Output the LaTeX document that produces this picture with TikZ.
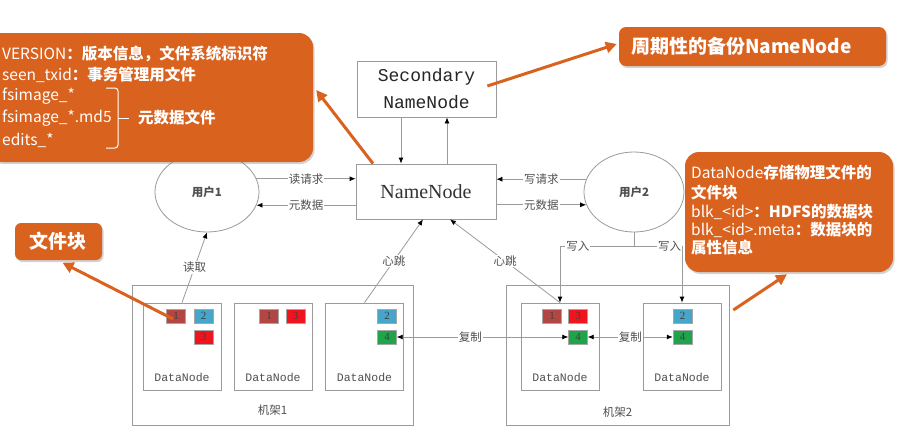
\documentclass[tikz,border=0pt]{standalone}
\usepackage{fontspec}
\setmainfont{Liberation Serif}
\newfontfamily\cjk{Noto Sans CJK SC}
\newfontfamily\mono{Liberation Mono}
\usetikzlibrary{shapes.geometric,arrows.meta,shadows,calc}
\definecolor{orng}{RGB}{217,98,31}
\definecolor{lgray}{RGB}{155,155,155}
\definecolor{tgray}{RGB}{80,80,80}
\definecolor{bone}{RGB}{178,70,66}
\definecolor{btwo}{RGB}{70,165,200}
\definecolor{bthree}{RGB}{240,20,30}
\definecolor{bfour}{RGB}{30,165,75}
\begin{document}
\begin{tikzpicture}[x=1pt,y=-1pt,
 box/.style={draw=lgray,line width=0.8pt,fill=white,inner sep=0pt},
 conn/.style={draw=lgray,line width=0.8pt},
 arr/.style={conn,-{Latex[length=6pt,width=5pt,color=black]}},
 darr/.style={conn,{Latex[length=6pt,width=5pt,color=black]}-{Latex[length=6pt,width=5pt,color=black]}},
 lbl/.style={fill=white,inner sep=1pt,text=tgray,font=\cjk\fontsize{11.5}{12}\selectfont},
 dnl/.style={text=tgray,font=\mono\fontsize{11.5}{12}\selectfont},
 dnbox/.style={box,minimum width=78pt,minimum height=87pt},
 blk/.style={draw=black!35,line width=0.4pt,minimum width=19pt,minimum height=14pt,inner sep=0pt,font=\fontsize{11}{11}\selectfont,text=black!75},
 callout/.style={fill=orng,drop shadow={opacity=0.35,shadow xshift=1.5pt,shadow yshift=-2pt}},
 ctext/.style={text=white,anchor=west,inner sep=0pt,font=\cjk\fontsize{15.5}{17}\selectfont},
 oarr/.style={draw=orng,line width=3pt,-{Triangle[length=11pt,width=11pt]}},
 ]
\useasboundingbox (0,0) rectangle (898,431);
\fill[white] (0,0) rectangle (898,431);

% racks
\node[box,minimum width=281pt,minimum height=140pt] (r1) at (272.5,355) {};
\node[box,minimum width=223pt,minimum height=140pt] (r2) at (617.5,355) {};
\node[lbl,fill=none] at ([yshift=15pt]r1.south) {机架1};
\node[lbl,fill=none] at ([yshift=13pt]r2.south) {机架2};

% datanodes
\node[dnbox] (dn1) at (182,346.5) {};
\node[dnbox] (dn2) at (273,346.5) {};
\node[dnbox] (dn3) at (364.5,346.5) {};
\node[dnbox] (dn4) at (560,346.5) {};
\node[dnbox] (dn5) at (682,346.5) {};
\foreach \d in {dn1,dn2,dn3,dn4,dn5}{\node[dnl] at ([yshift=12.5pt]\d.south) {DataNode};}

% blocks
\node[blk,fill=bone] (d1b1) at (176,316) {1};
\node[blk,fill=btwo] (d1b2) at (203.5,316) {2};
\node[blk,fill=bthree] (d1b3) at (203.5,337) {3};
\node[blk,fill=bone] (d2b1) at (269,316) {1};
\node[blk,fill=bthree] (d2b3) at (295.5,316) {3};
\node[blk,fill=btwo] (d3b2) at (387,316) {2};
\node[blk,fill=bfour] (d3b4) at (387,337) {4};
\node[blk,fill=bone] (d4b1) at (552,316) {1};
\node[blk,fill=bthree] (d4b3) at (578,316) {3};
\node[blk,fill=bfour] (d4b4) at (578,337) {4};
\node[blk,fill=btwo] (d5b2) at (682.5,316) {2};
\node[blk,fill=bfour] (d5b4) at (682.5,337) {4};

% name nodes
\node[box,minimum width=139pt,minimum height=56pt,align=center,font=\mono\fontsize{18}{27}\selectfont,text=black!85] (sec) at (426.5,89) {Secondary\\NameNode};
\node[box,minimum width=140pt,minimum height=55pt,font=\fontsize{20}{24}\selectfont,text=black!80] (nn) at (426,191.5) {NameNode};

% users
\node[ellipse,box,minimum width=104pt,minimum height=80pt,font=\cjk\bfseries\fontsize{11.5}{12}\selectfont,text=tgray] (u1) at (207,192) {用户1};
\node[ellipse,box,minimum width=100pt,minimum height=80pt,font=\cjk\bfseries\fontsize{11.5}{12}\selectfont,text=tgray] (u2) at (634,192) {用户2};

% connectors
\draw[arr] ([xshift=-25.5pt]sec.south) -- ([xshift=-25pt]nn.north);
\draw[arr] ([xshift=21pt]nn.north) -- ([xshift=20.5pt]sec.south);
\draw[arr] (u1.15) -- node[lbl]{读请求} (u1.15 -| nn.west);
\draw[arr] (u1.-15 -| nn.west) -- node[lbl]{元数据} (u1.-15);
\draw[arr] (u2.165) -- node[lbl]{写请求} (u2.165 -| nn.east);
\draw[arr] (u2.195 -| nn.east) -- node[lbl]{元数据} (u2.195);
\draw[arr] (dn1.north) -- node[lbl]{读取} (u1.south);
\draw[arr] (dn3.north) -- node[lbl]{心跳} ([xshift=-3pt]nn.south);
\draw[arr] (dn4.north) -- node[lbl]{心跳} ([xshift=24pt]nn.south);
\coordinate (wj) at ($(u2.south)+(0,14)$);
\draw[conn] (u2.south) -- (wj);
\draw[arr] (wj) -| node[lbl,pos=0.38]{写入} (dn4.north);
\draw[arr] (wj) -| node[lbl,pos=0.37]{写入} (dn5.north);
\draw[darr] (d3b4.east) -- node[lbl,pos=0.43]{复制} (d4b4.west);
\draw[darr] (d4b4.east) -- node[lbl]{复制} (d5b4.west);

% callouts
\node[callout,rounded corners=14pt,minimum width=325pt,minimum height=129pt] (c1) at (150.5,97.5) {};
\node[ctext] at (2,54) {VERSION\bfseries ：版本信息，文件系统标识符};
\node[ctext] at (2,75) {seen\_txid\bfseries ：事务管理用文件};
\node[ctext] at (2,96) {fsimage\_*};
\node[ctext] at (2,118) {fsimage\_*.md5};
\node[ctext] at (2,140) {edits\_*};
\draw[white,line width=1pt,rounded corners=3pt] (106,88) -- (118,88) -- (118,148) -- (106,148);
\draw[white,line width=1pt] (118,118) -- (129,118);
\node[ctext] at (138,118) {\bfseries 元数据文件};
\draw[oarr] ([xshift=-53pt]nn.north) -- ([xshift=3pt,yshift=7.5pt]c1.east);

\node[callout,rounded corners=7pt,minimum width=267pt,minimum height=39pt] (c2) at (752.5,46.5) {};
\node[ctext,font=\cjk\bfseries\fontsize{19}{20}\selectfont] at (631,46.5) {周期性的备份NameNode};
\draw[oarr] ([xshift=-9pt,yshift=3pt]sec.east) -- ([xshift=-2pt,yshift=2.5pt]c2.west);

\node[callout,rounded corners=14pt,minimum width=208pt,minimum height=120pt] (c3) at (789,212) {};
\node[ctext] at (691,173) {DataNode\bfseries 存储物理文件的};
\node[ctext] at (691,193) {\bfseries 文件块};
\node[ctext] at (691,212) {blk\_<id>\bfseries ：HDFS的数据块};
\node[ctext] at (691,230) {blk\_<id>.meta\bfseries ：数据块的};
\node[ctext] at (691,248) {\bfseries 属性信息};
\draw[oarr] ([xshift=4pt,yshift=45pt]r2.east) -- ([xshift=-2pt,yshift=-2pt]c3.south);

\node[callout,rounded corners=6pt,minimum width=87pt,minimum height=37pt] (c4) at (58.5,241.5) {};
\node[ctext,anchor=center,font=\cjk\bfseries\fontsize{19}{20}\selectfont] at (c4.center) {文件块};
\draw[oarr] ([xshift=-3pt,yshift=-3pt]d1b1.center) -- ([xshift=4pt,yshift=-2.5pt]c4.south);
\end{tikzpicture}
\end{document}
